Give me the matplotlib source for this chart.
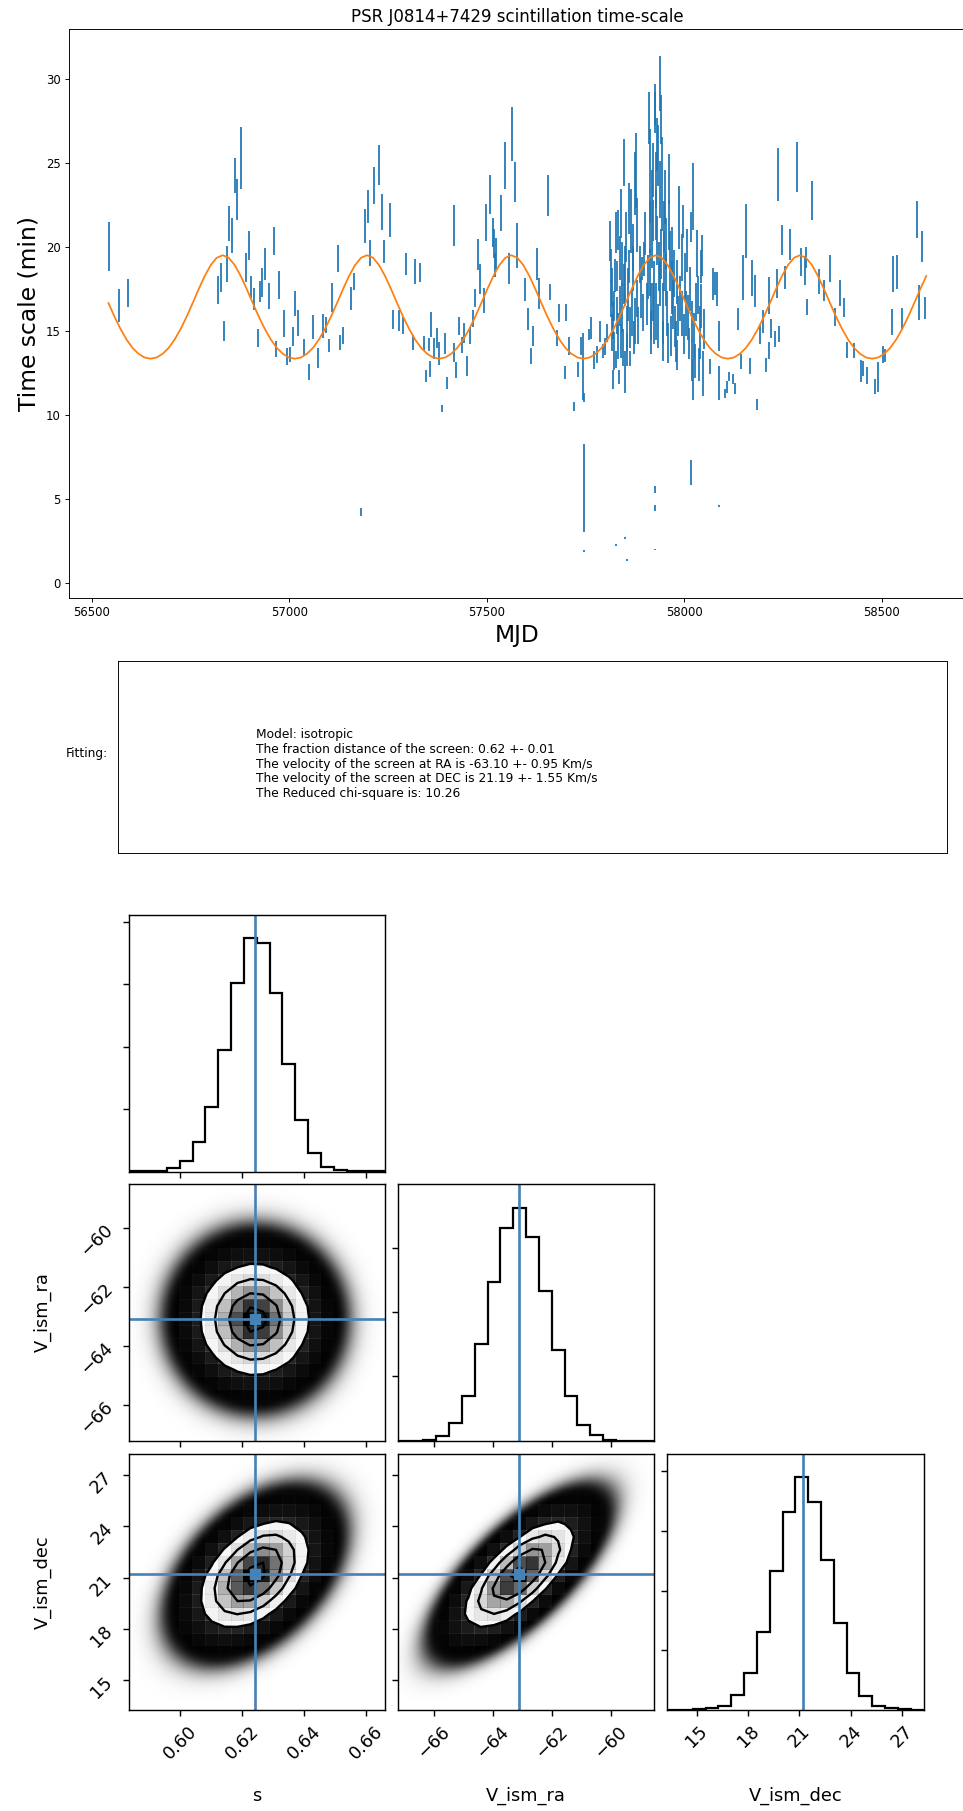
import numpy as np
import matplotlib
matplotlib.use("Agg")
import matplotlib.pyplot as plt
from matplotlib.colors import LinearSegmentedColormap

# ---------------- scintillation time-scale measurements ----------------
mjd = [56543.8, 56568.3, 56592.8, 56818.9, 56828.2, 56834.1, 56841.7, 56848.5, 56854.4, 56862.0,
       56868.7, 56877.1, 56890.6, 56897.4, 56904.1, 56910.9, 56920.2, 56926.9, 56931.1, 56937.9,
       56948.9, 56962.4, 56967.4, 56974.2, 56986.8, 56994.4, 57002.9, 57009.6, 57014.7, 57023.1,
       57036.6, 57050.1, 57059.4, 57072.1,
       57086.4, 57092.3, 57099.9, 57109.1, 57122.6, 57127.7, 57135.3, 57156.4, 57164.8, 57182.5,
       57191.0, 57198.6, 57205.3, 57213.8, 57227.3, 57234.0, 57240.0, 57254.3, 57261.9, 57277.1,
       57287.2, 57295.6, 57312.5, 57317.6, 57330.2, 57340.3, 57346.2, 57353.0, 57355.5, 57358.9,
       57366.5, 57373.3, 57380.0, 57386.7, 57393.5, 57399.4, 57417.1, 57417.6, 57423.0, 57429.8,
       57437.4, 57442.4, 57449.2, 57456.8, 57464.4, 57469.4, 57478.7, 57483.8, 57492.2, 57498.9,
       57508.2, 57514.9, 57517.5, 57520.9, 57524.3, 57535.2, 57546.2, 57556.3, 57564.0, 57570.7,
       57575.8, 57596.8, 57604.5, 57611.2, 57618.0, 57627.2, 57631.5, 57654.2, 57661.0, 57677.9,
       57682.9, 57698.1, 57700.6, 57709.1,
       57721.7, 57730.1, 57738.6, 57742.8, 57745.3, 57745.8, 57746.2, 57759.7, 57763.9, 57770.6,
       57779.1, 57786.7, 57793.4, 57798.5, 57805.2,
       57812.8, 57814.5, 57816.2, 57817.9, 57819.6, 57821.2, 57822.9, 57826.3, 57826.8, 57828.0,
       57830.5, 57833.1, 57835.6, 57838.1, 57840.7, 57843.2, 57845.7, 57848.3, 57849.1, 57849.6,
       57850.8, 57854.2, 57854.7, 57857.5, 57860.9, 57862.6, 57865.1, 57867.7, 57871.0, 57874.4,
       57876.1, 57878.6, 57881.2, 57887.9, 57893.0, 57898.0, 57904.8,
       57910.7, 57912.3, 57914.1, 57914.9, 57917.4, 57919.1, 57919.6, 57921.7, 57923.3, 57925.0,
       57925.0, 57925.5, 57926.7, 57926.7, 57927.6, 57929.2, 57930.9, 57931.8, 57934.3, 57936.0,
       57937.7, 57939.4, 57941.1, 57942.7, 57944.4, 57946.1, 57947.8, 57949.5, 57952.9, 57956.2,
       57960.5, 57963.8, 57968.1, 57972.3, 57976.5, 57979.0, 57982.4, 57987.5, 57990.0, 57993.4,
       57997.6, 58001.8, 58004.3, 58010.3, 58012.8, 58016.2, 58017.8, 58018.7, 58021.2, 58022.9,
       58025.4, 58028.8, 58035.6, 58039.8, 58043.2, 58046.5, 58064.3, 58073.5, 58078.6, 58083.7,
       58087.0, 58087.5, 58088.7, 58103.1, 58109.0, 58114.0,
       58122.5, 58129.2, 58136.0, 58143.6, 58149.5, 58156.2, 58166.3, 58170.6, 58179.0, 58184.1,
       58192.5, 58198.4, 58206.0, 58214.4, 58215.3, 58218.7, 58228.8, 58235.5, 58235.9, 58239.8,
       58248.2, 58255.0, 58267.6, 58285.3, 58295.4, 58305.6, 58308.9, 58309.8, 58323.3, 58340.2,
       58353.7, 58368.0, 58381.5, 58394.2, 58404.3, 58411.9, 58430.5, 58448.2, 58453.2, 58462.5,
       58482.8, 58491.2, 58502.2, 58508.1, 58524.9, 58529.2, 58537.6, 58551.1, 58588.2, 58595.0,
       58601.7, 58608.5,
       # densely sampled 2017 campaign, additional epochs
       57815.3, 57818.7, 57824.6, 57829.0, 57832.0, 57836.5, 57839.0, 57842.0, 57846.5, 57852.0,
       57856.0, 57859.0, 57863.5, 57869.0, 57873.0, 57880.0, 57884.0, 57890.0, 57896.0, 57901.0,
       57907.0, 57913.0, 57916.0, 57920.5, 57924.2, 57928.4, 57933.0, 57938.5, 57940.2, 57945.2,
       57950.7, 57954.5, 57958.0, 57962.0, 57966.0, 57970.0, 57974.5, 57980.5, 57985.0, 57995.0,
       57999.5, 58007.0, 58014.5, 58020.0, 58027.0, 58031.5, 58037.5, 58041.5, 58045.0, 58049.0]
tau = [20.02, 16.50, 17.27, 17.44, 18.20, 15.00, 19.00, 21.40, 20.69, 24.27,
       22.82, 25.30, 18.76, 20.10, 17.61, 16.89, 14.58, 17.33, 17.89, 18.98,
       17.07, 20.35, 13.93, 17.72, 15.46, 13.48, 13.58, 14.66, 16.65, 15.46,
       14.05, 12.54, 15.24, 13.38,
       15.31, 15.34, 14.12, 16.99, 19.31, 14.29, 14.75, 16.94, 17.95, 4.22,
       21.25, 22.40, 19.62, 23.66, 24.90, 22.10, 19.73, 21.60, 15.70, 15.64,
       15.31, 18.98, 14.29, 18.53, 18.50, 14.25, 12.32, 14.19, 12.76, 15.40,
       13.96, 14.58, 13.65, 10.40, 14.24, 11.92, 21.30, 13.71, 12.66, 15.30,
       14.17, 14.89, 12.90, 14.73, 15.75, 16.97, 19.54, 18.11, 16.82, 21.44,
       23.13, 20.89, 20.22, 18.94, 19.62, 22.02, 24.88, 18.71, 26.72, 23.88,
       20.07, 17.47, 15.73, 13.51, 14.72, 19.01, 17.23, 23.06, 17.31, 14.58,
       16.07, 12.51, 16.10, 14.11,
       10.49, 12.70, 14.11, 12.86, 5.62, 1.90, 11.05, 14.79, 15.17, 13.26,
       13.60, 14.98, 13.82, 14.08, 14.89,
       20.35, 16.94, 14.92, 17.61, 12.12, 13.80, 16.49, 20.86, 2.26, 13.30,
       18.28, 14.70, 12.26, 19.35, 21.98, 16.37, 14.02, 25.06, 12.56, 2.70,
       18.28, 15.15, 1.36, 17.16, 18.84, 13.35, 21.53, 16.03, 18.73, 23.78,
       15.60, 24.56, 16.94, 18.95, 18.73, 19.29, 16.60,
       27.69, 24.22, 21.20, 16.15, 22.77, 19.85, 16.71, 21.56, 18.06, 28.03,
       5.58, 1.99, 28.48, 4.44, 24.00, 16.15, 26.12, 20.41, 25.45, 18.84,
       17.84, 29.76, 27.58, 22.77, 25.57, 16.04, 21.20, 19.18, 18.06, 16.04,
       24.05, 19.18, 17.61, 16.60, 15.26, 14.36, 13.58, 21.76, 16.94, 16.04,
       21.53, 18.28, 16.04, 15.82, 14.25, 21.20, 6.55, 13.24, 22.99, 12.12,
       14.70, 16.71, 17.16, 14.92, 18.84, 12.46, 12.90, 17.78, 17.83, 17.50,
       14.70, 4.60, 11.90, 11.28, 11.67, 12.28,
       12.14, 11.56, 15.70, 13.18, 18.17, 20.95, 12.92, 18.17, 17.40, 10.61,
       14.78, 15.55, 12.98, 17.10, 13.85, 15.14, 14.50, 17.81, 24.33, 14.84,
       20.42, 18.17, 20.14, 24.76, 19.10, 18.58, 19.36, 16.43, 22.77, 17.95,
       17.41, 18.72, 15.85, 17.25, 16.40, 13.87, 13.85, 12.63, 12.79, 12.36,
       11.69, 12.28, 13.59, 13.52, 15.53, 18.40, 18.52, 15.74, 21.62, 16.68,
       20.03, 16.37,
       18.90, 15.60, 18.30, 15.90, 21.00, 16.50, 14.40, 19.00, 17.80, 20.60,
       13.90, 22.30, 15.20, 20.00, 14.60, 21.30, 15.30, 17.00, 16.10, 20.80,
       18.20, 18.50, 14.90, 24.60, 15.60, 21.90, 15.30, 23.40, 19.60, 14.40,
       23.00, 20.20, 14.30, 21.30, 14.70, 19.80, 18.40, 17.90, 15.90, 19.40,
       14.80, 19.80, 17.50, 15.60, 13.20, 19.60, 13.00, 16.50, 19.50, 15.10]
tau_err = [1.47, 0.98, 0.83, 0.84, 0.86, 0.60, 1.06, 1.04, 1.02, 1.06,
           1.24, 1.84, 0.86, 0.87, 0.67, 0.67, 0.56, 0.62, 0.84, 0.96,
           0.76, 0.84, 0.50, 0.83, 0.80, 0.50, 0.45, 0.57, 0.73, 0.76,
           0.47, 0.47, 0.72, 0.60,
           0.73, 0.47, 0.40, 0.84, 0.80, 0.45, 0.50, 0.67, 0.52, 0.22,
           1.00, 0.99, 0.78, 1.08, 1.18, 1.06, 0.66, 1.00, 0.56, 0.62,
           0.50, 0.65, 0.45, 0.74, 0.56, 0.45, 0.36, 0.39, 0.48, 0.75,
           0.62, 0.60, 0.70, 0.22, 0.62, 0.36, 1.23, 0.58, 0.47, 0.56,
           0.48, 0.60, 0.60, 0.53, 0.50, 0.53, 0.92, 0.89, 0.74, 1.10,
           1.15, 0.86, 0.86, 0.73, 0.90, 1.09, 1.40, 0.92, 1.60, 1.17,
           1.34, 0.67, 0.65, 0.45, 0.60, 0.95, 0.92, 1.23, 0.48, 0.45,
           0.53, 0.39, 0.50, 0.54,
           0.28, 0.43, 0.54, 2.00, 2.62, 0.05, 0.28, 0.31, 0.65, 0.54,
           0.53, 0.62, 0.43, 0.50, 0.53,
           1.17, 1.12, 1.12, 1.12, 0.56, 1.12, 0.90, 1.23, 0.04, 0.50,
           0.90, 1.35, 0.43, 1.29, 1.46, 1.46, 1.12, 1.40, 1.23, 0.06,
           1.79, 1.35, 0.04, 1.57, 1.00, 0.45, 1.90, 1.35, 1.35, 1.90,
           1.35, 2.24, 1.12, 1.12, 0.67, 1.00, 1.23,
           1.57, 2.80, 1.57, 1.68, 1.80, 1.12, 1.12, 1.23, 1.12, 1.23,
           0.20, 0.04, 1.23, 0.17, 1.68, 1.68, 1.57, 1.46, 1.79, 1.46,
           1.35, 1.63, 1.46, 1.80, 1.00, 1.79, 1.57, 1.79, 1.57, 1.35,
           1.50, 1.79, 1.57, 1.46, 1.23, 1.23, 0.90, 1.90, 1.35, 1.35,
           1.00, 1.35, 1.35, 1.35, 0.90, 0.90, 0.75, 1.23, 2.00, 1.23,
           1.35, 1.12, 1.12, 1.57, 1.00, 1.35, 0.45, 0.95, 0.67, 1.00,
           0.90, 0.06, 1.00, 0.28, 0.34, 0.28,
           0.31, 0.34, 0.67, 0.44, 1.35, 1.59, 0.47, 1.06, 0.96, 0.34,
           0.58, 0.67, 0.41, 1.11, 0.50, 0.56, 0.48, 0.87, 1.57, 0.48,
           0.91, 0.67, 0.92, 1.48, 0.82, 0.86, 0.63, 0.50, 1.18, 0.73,
           0.60, 0.82, 0.53, 0.76, 0.58, 0.48, 0.46, 0.67, 0.45, 0.50,
           0.43, 0.90, 0.50, 0.39, 0.78, 1.05, 1.02, 0.64, 1.10, 1.04,
           0.90, 0.67,
           1.00, 1.10, 1.00, 1.10, 1.20, 1.20, 1.00, 1.30, 1.20, 1.50,
           1.00, 1.50, 1.20, 1.40, 1.00, 1.60, 1.10, 1.20, 1.10, 1.30,
           1.30, 1.40, 1.30, 1.60, 1.40, 1.50, 1.30, 1.70, 1.50, 1.20,
           1.60, 1.50, 1.20, 1.50, 1.20, 1.40, 1.40, 1.30, 1.20, 1.40,
           1.20, 1.30, 1.30, 1.20, 1.00, 1.40, 1.00, 1.30, 1.20, 1.20]

# isotropic-screen model, tabulated every 15.22 d starting at MJD 56542.5
model_start = 56542.5
model_step = 15.22
model_tau = [16.66, 15.85, 15.12, 14.49, 13.99, 13.64, 13.42, 13.35, 13.42, 13.64, 13.99, 14.49,
             15.12, 15.85, 16.66, 17.49, 18.27, 18.92, 19.36, 19.51, 19.36, 18.92, 18.27, 17.49,
             16.66, 15.85, 15.12, 14.49, 13.99, 13.64, 13.42, 13.35, 13.42, 13.64, 13.99, 14.49,
             15.12, 15.85, 16.66, 17.49, 18.27, 18.92, 19.36, 19.51, 19.36, 18.92, 18.27, 17.49,
             16.66, 15.85, 15.12, 14.49, 13.99, 13.64, 13.42, 13.35, 13.42, 13.64, 13.99, 14.49,
             15.12, 15.85, 16.66, 17.49, 18.27, 18.92, 19.36, 19.51, 19.36, 18.92, 18.27, 17.49,
             16.66, 15.85, 15.12, 14.49, 13.99, 13.64, 13.42, 13.35, 13.42, 13.64, 13.99, 14.49,
             15.12, 15.85, 16.66, 17.49, 18.27, 18.92, 19.36, 19.51, 19.36, 18.92, 18.27, 17.49,
             16.66, 15.85, 15.12, 14.49, 13.99, 13.64, 13.42, 13.35, 13.42, 13.64, 13.99, 14.49,
             15.12, 15.85, 16.66, 17.49, 18.27, 18.92, 19.36, 19.51, 19.36, 18.92, 18.27, 17.49,
             16.66, 15.85, 15.12, 14.49, 13.99, 13.64, 13.42, 13.35, 13.42, 13.64, 13.99, 14.49,
             15.12, 15.85, 16.66, 17.49, 18.27]

# ---------------- fit summary ----------------
fit_lines = ["Model: isotropic",
             "The fraction distance of the screen: 0.62 +- 0.01",
             "The velocity of the screen at RA is -63.10 +- 0.95 Km/s",
             "The velocity of the screen at DEC is 21.19 +- 1.55 Km/s",
             "The Reduced chi-square is: 10.26"]

# ---------------- posterior summary ----------------
param_labels = ["s", "V_ism_ra", "V_ism_dec"]
param_ranges = [(0.5834, 0.6660), (-67.22, -58.52), (13.27, 28.25)]
param_truths = [0.624, -63.10, 21.19]
param_ticks = [[0.60, 0.62, 0.64, 0.66], [-66, -64, -62, -60], [15, 18, 21, 24, 27]]
hist_counts = [
    [2, 8, 50, 320, 880, 2330, 5190, 9710, 15060, 18670,
     18320, 14260, 8610, 4090, 1470, 400, 110, 30, 5, 1],
    [2, 10, 78, 388, 1370, 3490, 7500, 12330, 16540, 18100,
     15820, 11630, 7030, 3490, 1215, 440, 78, 15, 3, 1],
    [1, 8, 56, 139, 333, 1250, 3110, 6580, 11610, 16590,
     19530, 17420, 12560, 7280, 3140, 1170, 333, 139, 56, 3],
]
hist_yticks = [[5000, 10000, 15000, 20000], [5000, 10000, 15000], [5000, 10000, 15000, 20000]]
post_mean = [0.6240, -63.10, 21.19]
post_std = [0.0087, 0.94, 1.57]
post_corr = [[1.00, 0.00, 0.45],
             [0.00, 1.00, 0.72],
             [0.45, 0.72, 1.00]]
n_samples = 100000

# ---------------- figure ----------------
W, H = 963, 1811
fig = plt.figure(figsize=(W / 100, H / 100), dpi=100)


def px_axes(left, top, right, bottom):
    return fig.add_axes([left / W, 1 - bottom / H, (right - left) / W, (bottom - top) / H])


# ---- time-scale panel ----
k = 0.84
ax = px_axes(68.7, 29.4, 965.6, 598.3)
ax.errorbar(mjd, tau, yerr=tau_err, fmt="none", ecolor="C0", elinewidth=1.5 * k)
model_mjd = model_start + model_step * np.arange(len(model_tau))
ax.plot(model_mjd, model_tau, color="C1", lw=1.5 * k)
ax.set_xlim(56441.8, 58712)
ax.set_ylim(-0.92, 32.96)
ax.set_xticks([56500, 57000, 57500, 58000, 58500])
ax.set_yticks([0, 5, 10, 15, 20, 25, 30])
ax.tick_params(labelsize=10 * k, length=3.5 * k, width=0.8 * k, pad=3.5 * k)
for sp in ax.spines.values():
    sp.set_linewidth(0.8 * k)
ax.set_title("PSR J0814+7429 scintillation time-scale", fontsize=12, pad=6 * k)
ax.set_xlabel("MJD", fontsize=20 * k, labelpad=4 * k)
ax.set_ylabel("Time scale (min)", fontsize=20 * k, labelpad=4 * k)

# ---- fit summary box ----
axt = px_axes(117.5, 661, 947, 853)
axt.set_xticks([])
axt.set_yticks([])
for sp in axt.spines.values():
    sp.set_linewidth(0.8 * k)
axt.text(0.167, 0.4635, "\n".join(fit_lines), transform=axt.transAxes,
         ha="left", va="center", fontsize=8.8, linespacing=1.16)
fig.text(108 / W, 1 - 753 / H, "Fitting:", ha="right", va="center", fontsize=8.8)

# ---- corner plot ----
c = 1.28
truth_color = "#4682b4"
col_left = [128.5, 397.8, 667.1]
row_top = [915.0, 1184.3, 1453.6]
size = 256.5
nb = 20
levels = 1.0 - np.exp(-0.5 * np.arange(0.5, 2.1, 0.5) ** 2)
density_cmap = LinearSegmentedColormap.from_list("density_cmap", [(0, 0, 0, 1), (1, 1, 1, 0)])
white_cmap = LinearSegmentedColormap.from_list("white_cmap", [(1, 1, 1), (1, 1, 1)], N=2)


def gauss_q(xg, yg, jx, iy):
    zx = (xg - post_mean[jx]) / post_std[jx]
    zy = (yg - post_mean[iy]) / post_std[iy]
    r = post_corr[jx][iy]
    return (zx ** 2 - 2 * r * zx * zy + zy ** 2) / (1 - r ** 2)


def style_axis(a, i, j):
    a.set_xlim(param_ranges[j])
    a.set_xticks(param_ticks[j])
    a.tick_params(labelsize=10 * c, length=3.5 * c, width=0.8 * c, pad=3.5 * c)
    for sp in a.spines.values():
        sp.set_linewidth(0.8 * c)
    if i == 2:
        for lab in a.get_xticklabels():
            lab.set_rotation(45)
        a.set_xlabel(param_labels[j], fontsize=10 * c)
        a.xaxis.set_label_coords(0.5, -0.3)
    else:
        a.set_xticklabels([])


for i in range(3):
    for j in range(i + 1):
        a = px_axes(col_left[j], row_top[i], col_left[j] + size, row_top[i] + size)
        if i == j:
            edges = np.linspace(param_ranges[i][0], param_ranges[i][1], nb + 1)
            a.hist(edges[:-1], bins=edges, weights=hist_counts[i], histtype="step",
                   color="k", lw=1.6)
            a.set_ylim(0, 1.1 * max(hist_counts[i]))
            a.set_yticks(hist_yticks[i])
            a.set_yticklabels([])
            a.axvline(param_truths[i], color=truth_color, lw=1.5 * c)
            style_axis(a, i, j)
            continue

        xr, yr = param_ranges[j], param_ranges[i]
        # sample cloud, drawn as point-overlap opacity
        gx = np.linspace(xr[0], xr[1], 400)
        gy = np.linspace(yr[0], yr[1], 400)
        GX, GY = np.meshgrid(gx, gy)
        q = gauss_q(GX, GY, j, i)
        alpha = 1.0 - np.exp(-400.0 * np.exp(-0.5 * q))
        rgba = np.zeros(GX.shape + (4,))
        rgba[..., 3] = alpha
        a.imshow(rgba, extent=[xr[0], xr[1], yr[0], yr[1]], origin="lower",
                 aspect="auto", interpolation="bilinear", zorder=-1)

        # binned density, 5x5 sub-samples per bin
        X = np.linspace(xr[0], xr[1], nb + 1)
        Y = np.linspace(yr[0], yr[1], nb + 1)
        sub = (np.arange(5) + 0.5) / 5
        fx = (X[:-1, None] + np.outer(np.diff(X), sub)).ravel()
        fy = (Y[:-1, None] + np.outer(np.diff(Y), sub)).ravel()
        FX, FY = np.meshgrid(fx, fy, indexing="ij")
        dens = np.exp(-0.5 * gauss_q(FX, FY, j, i))
        Hc = dens.reshape(nb, 5, nb, 5).mean(axis=(1, 3))
        Hc = n_samples * Hc / Hc.sum()

        Hflat = np.sort(Hc.flatten())[::-1]
        sm = np.cumsum(Hflat)
        sm /= sm[-1]
        V = np.empty(len(levels))
        for n_, v0 in enumerate(levels):
            sel = Hflat[sm <= v0]
            V[n_] = sel[-1] if len(sel) else Hflat[0]
        V.sort()

        X1, Y1 = 0.5 * (X[1:] + X[:-1]), 0.5 * (Y[1:] + Y[:-1])
        H2 = Hc.min() + np.zeros((nb + 4, nb + 4))
        H2[2:-2, 2:-2] = Hc
        H2[2:-2, 1] = Hc[:, 0]
        H2[2:-2, -2] = Hc[:, -1]
        H2[1, 2:-2] = Hc[0]
        H2[-2, 2:-2] = Hc[-1]
        H2[1, 1] = Hc[0, 0]
        H2[1, -2] = Hc[0, -1]
        H2[-2, 1] = Hc[-1, 0]
        H2[-2, -2] = Hc[-1, -1]
        dx, dy = X1[1] - X1[0], Y1[1] - Y1[0]
        X2 = np.concatenate([X1[0] + np.array([-2, -1]) * dx, X1, X1[-1] + np.array([1, 2]) * dx])
        Y2 = np.concatenate([Y1[0] + np.array([-2, -1]) * dy, Y1, Y1[-1] + np.array([1, 2]) * dy])

        a.contourf(X2, Y2, H2.T, [V.min(), Hc.max()], cmap=white_cmap, antialiased=False)
        a.pcolor(X, Y, Hc.max() - Hc.T, cmap=density_cmap)
        a.contour(X2, Y2, H2.T, V, colors="k", linewidths=1.7)

        a.axvline(param_truths[j], color=truth_color, lw=1.5 * c)
        a.axhline(param_truths[i], color=truth_color, lw=1.5 * c)
        a.plot(param_truths[j], param_truths[i], "s", color=truth_color, ms=6 * c)

        a.set_ylim(yr)
        a.set_yticks(param_ticks[i])
        style_axis(a, i, j)
        if j == 0:
            for lab in a.get_yticklabels():
                lab.set_rotation(45)
            a.set_ylabel(param_labels[i], fontsize=10 * c)
            a.yaxis.set_label_coords(-0.3, 0.5)
        else:
            a.set_yticklabels([])

fig.savefig("out.png", dpi=100)
